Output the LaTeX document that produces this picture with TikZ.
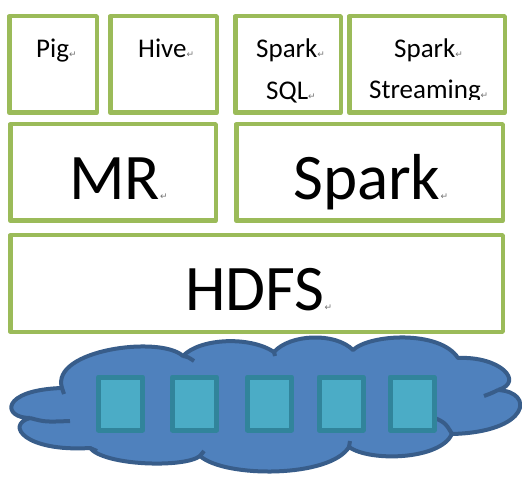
\documentclass[tikz,border=0pt]{standalone}
\usepackage{fontspec}
\setmainfont{Carlito}
\newfontfamily\markfont{DejaVu Sans}
\definecolor{layergreen}{HTML}{9BBB59}
\definecolor{cloudfill}{HTML}{4F81BD}
\definecolor{cloudline}{HTML}{385D8A}
\definecolor{diskfill}{HTML}{4BACC6}
\definecolor{diskline}{HTML}{31849B}
\newcommand{\pmark}{{\markfont\fontsize{9}{9}\selectfont\color{black!55}↵}}
\tikzset{
  layerbox/.style={draw=layergreen,line width=4.5pt,line join=round,inner sep=0pt,outer sep=0pt},
  smalltext/.style={font=\fontsize{27}{30}\selectfont,inner sep=0pt,anchor=base west},
  bigtext/.style={font=\fontsize{65}{70}\selectfont,inner sep=0pt,anchor=base west},
  diskbox/.style={draw=diskline,fill=diskfill,line width=5pt,line join=round,minimum width=44pt,minimum height=53pt,inner sep=0pt},
  cloudstroke/.style={draw=cloudline,line width=4pt},
}
\begin{document}
\begin{tikzpicture}[x=1pt,y=-1pt,line join=bevel]
\useasboundingbox[fill=white] (0,0) rectangle (522,478);
%%
  \node [layerbox,minimum width=87.5pt,minimum height=96.5pt] (node_pig) at (53,64.5) {};
  \node [layerbox,minimum width=106.5pt,minimum height=96.5pt] (node_hive) at (163.5,64.5) {};
  \node [layerbox,minimum width=105.5pt,minimum height=96.5pt] (node_sql) at (288,64.5) {};
  \node [layerbox,minimum width=155.5pt,minimum height=96.5pt] (node_streaming) at (427,64.5) {};
  \node [layerbox,minimum width=205.5pt,minimum height=96.5pt] (node_mr) at (113,172.5) {};
  \node [layerbox,minimum width=266.5pt,minimum height=96.5pt] (node_spark) at (369.5,172.5) {};
  \node [layerbox,minimum width=492.5pt,minimum height=96.5pt] (node_hdfs) at (256.5,283.5) {};
%%
  \node [smalltext] (text_pig) at (36,58) {Pig\pmark};
  \node [smalltext] (text_hive) at (138,58) {Hive\pmark};
  \node [smalltext] (text_sql_a) at (256,58) {Spark\pmark};
  \node [smalltext] (text_sql_b) at (266,99.5) {SQL\pmark};
  \node [smalltext] (text_streaming_a) at (394,58) {Spark\pmark};
  \begin{scope}
    \clip (349,16) rectangle (505,100);
    \node [smalltext] (text_streaming_b) at (369,98.5) {Streaming\pmark};
  \end{scope}
  \node [bigtext] (text_mr) at (69,200) {MR\pmark};
  \node [bigtext] (text_spark) at (293,200) {Spark\pmark};
  \node [bigtext] (text_hdfs) at (185,311) {HDFS\pmark};
%%
  \draw [cloudstroke,fill=cloudfill] (30,418)
    .. controls (2,418) and (0,390) .. (62,388)
    .. controls (50,350) and (160,335) .. (183,356)
    .. controls (200,338) and (250,336) .. (274,352)
    .. controls (290,334) and (335,332) .. (353,350)
    .. controls (370,334) and (440,330) .. (458,358)
    .. controls (500,356) and (525,382) .. (498,390)
    .. controls (535,392) and (530,432) .. (452,434)
    .. controls (440,460) and (370,462) .. (349,447)
    .. controls (330,478) and (225,478) .. (200,456)
    .. controls (185,468) and (105,466) .. (90,448)
    .. controls (25,452) and (5,425) .. (30,418) -- cycle;
  \draw [cloudstroke] (30,418) .. controls (45,422) .. (70,421);
  \draw [cloudstroke] (62,388) .. controls (63,391) .. (64,394);
  \draw [cloudstroke] (183,356) .. controls (188,357) .. (194,361);
  \draw [cloudstroke] (274,352) -- (275,356);
  \draw [cloudstroke] (498,390) .. controls (492,393) .. (484,396);
  \draw [cloudstroke] (452,434) .. controls (445,422) .. (425,414);
  \draw [cloudstroke] (349,447) -- (350,441);
  \draw [cloudstroke] (200,456) -- (204,451);
  \draw [cloudstroke] (90,448) -- (97,451);
%%
  \node [diskbox] (disk_1) at (120.5,403.5) {};
  \node [diskbox] (disk_2) at (194.5,403.5) {};
  \node [diskbox] (disk_3) at (269.5,403.5) {};
  \node [diskbox] (disk_4) at (341,403.5) {};
  \node [diskbox] (disk_5) at (412,403.5) {};
\end{tikzpicture}
\end{document}
